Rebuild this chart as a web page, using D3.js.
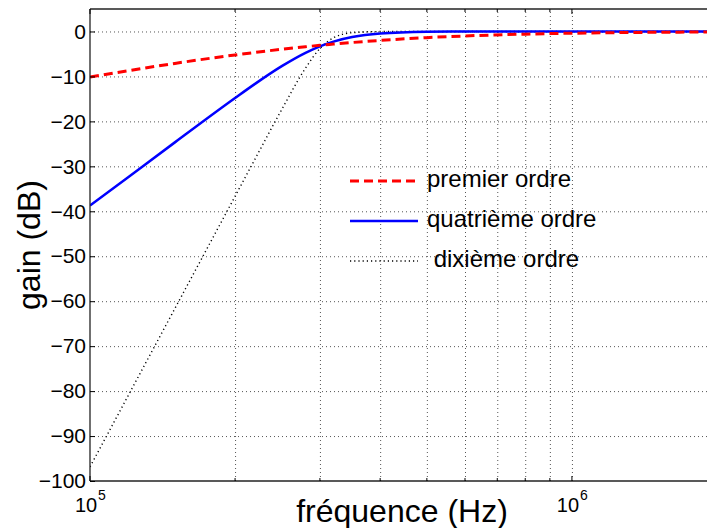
<!DOCTYPE html>
<html>
<head>
<meta charset="utf-8">
<script src="https://cdn.jsdelivr.net/npm/d3@7"></script>
<style>
  body { margin: 0; background: #fff; }
  svg { display: block; font-family: "Liberation Sans", Arial, sans-serif; }
  .grid line { stroke: #555; stroke-dasharray: 1,3; }
  .grid path { display: none; }
</style>
</head>
<body>
<div id="chart"></div>
<script>
// values (frequency in Hz, gain in dB)
var freqs = [1e5, 1.2e5, 1.5e5, 2e5, 2.2e5, 2.5e5, 2.8e5, 3e5, 3.2e5, 3.5e5, 4e5, 5e5, 6e5, 8e5, 1e6, 1.5e6, 2e6];
var premier = [-10.13, -8.73, -7.10, -5.22, -4.66, -3.96, -3.40, -3.08, -2.81, -2.45, -1.99, -1.37, -1.00, -0.59, -0.39, -0.18, -0.10];
var quatrieme = [-38.74, -32.41, -24.67, -14.81, -11.66, -7.72, -4.75, -3.31, -2.26, -1.25, -0.47, -0.08, -0.02, 0, 0, 0, 0];
var dixieme = [-96.86, -81.02, -61.64, -36.66, -28.38, -17.35, -8.15, -3.79, -1.41, -0.27, -0.02, 0, 0, 0, 0, 0, 0];

var yTicks = [0, -10, -20, -30, -40, -50, -60, -70, -80, -90, -100];
var xGrid = [2e5, 3e5, 4e5, 5e5, 6e5, 7e5, 8e5, 9e5, 1e6, 2e6];
var xMinor = [2e5, 3e5, 4e5, 5e5, 6e5, 7e5, 8e5, 9e5, 2e6];
var legendLabels = ["premier ordre", "quatrième ordre", " dixième ordre"];

var W = 707, H = 528;
var margin = { top: 9, left: 90, bottom: 47 };

var svg = d3.select("#chart").append("svg")
  .attr("width", W).attr("height", H);

var x = d3.scaleLog().domain([1e5, 2e6]).range([margin.left, 717]);
var y = d3.scaleLinear().domain([-100, 5]).range([H - margin.bottom, margin.top]);

var x0 = x.range()[0], x1 = x.range()[1];
var yTop = y.range()[1], yBot = y.range()[0];

// gridlines
svg.append("g")
  .attr("class", "grid")
  .attr("transform", "translate(" + x0 + ",0)")
  .call(d3.axisLeft(y).tickValues(yTicks.filter(function(d) { return d > -100; }))
    .tickSize(-(x1 - x0)).tickFormat(""));

svg.append("g")
  .attr("class", "grid")
  .attr("transform", "translate(0," + yBot + ")")
  .call(d3.axisBottom(x).tickValues(xGrid)
    .tickSize(-(yBot - yTop)).tickFormat(""));

// curves
svg.append("clipPath").attr("id", "clip")
  .append("rect").attr("x", x0).attr("y", yTop)
  .attr("width", x1 - x0).attr("height", yBot - yTop);

var line = d3.line()
  .x(function(d) { return x(d[0]); })
  .y(function(d) { return y(d[1]); })
  .curve(d3.curveMonotoneX);

function pairs(vals) {
  return freqs.map(function(f, i) { return [f, vals[i]]; });
}

var series = [
  { vals: premier, color: "#ff0000", width: 3, dash: "9,5" },
  { vals: quatrieme, color: "#0000ff", width: 2.5, dash: null },
  { vals: dixieme, color: "#000000", width: 1.4, dash: "1.2,3" }
];

var plot = svg.append("g").attr("clip-path", "url(#clip)");
series.slice().reverse().forEach(function(s) {
  plot.append("path")
    .datum(pairs(s.vals))
    .attr("d", line)
    .attr("fill", "none")
    .attr("stroke", s.color)
    .attr("stroke-width", s.width)
    .attr("stroke-dasharray", s.dash);
});

// frame
svg.append("line").attr("x1", x0).attr("x2", x1).attr("y1", yTop).attr("y2", yTop)
  .attr("stroke", "#222").attr("stroke-width", 1.3);
svg.append("line").attr("x1", x0).attr("x2", x1).attr("y1", yBot).attr("y2", yBot)
  .attr("stroke", "#222").attr("stroke-width", 1.3);

// left axis, ticks inside
var yAxis = svg.append("g")
  .attr("transform", "translate(" + x0 + ",0)")
  .call(d3.axisLeft(y).tickValues(yTicks).tickSizeInner(-5).tickSizeOuter(0).tickPadding(4));
yAxis.select(".domain").attr("stroke", "#222").attr("stroke-width", 1.3)
  .attr("d", "M0," + yTop + "V" + yBot);
yAxis.selectAll("text").attr("font-size", 21).attr("fill", "#000")
  .attr("font-family", "Liberation Sans, Arial, sans-serif");

// top and bottom ticks, inside
[[yTop, 1], [yBot, -1]].forEach(function(p) {
  svg.append("g").selectAll("line")
    .data(xMinor).join("line")
    .attr("x1", function(d) { return x(d); }).attr("x2", function(d) { return x(d); })
    .attr("y1", p[0]).attr("y2", p[0] + p[1] * 3)
    .attr("stroke", "#000");
  svg.append("g").selectAll("line")
    .data([1e5, 1e6]).join("line")
    .attr("x1", function(d) { return x(d); }).attr("x2", function(d) { return x(d); })
    .attr("y1", p[0]).attr("y2", p[0] + p[1] * 5)
    .attr("stroke", "#000");
});

// x tick labels (10^5, 10^6)
var xLabels = [{ v: 1e5, exp: "5" }, { v: 1e6, exp: "6" }];
xLabels.forEach(function(l) {
  svg.append("text")
    .attr("x", x(l.v) - 4).attr("y", 512)
    .attr("text-anchor", "middle")
    .attr("font-size", 20)
    .text("10");
  svg.append("text")
    .attr("x", x(l.v) + 8).attr("y", 500)
    .attr("font-size", 14)
    .text(l.exp);
});

// axis titles
svg.append("text")
  .attr("x", 402).attr("y", 522)
  .attr("text-anchor", "middle")
  .attr("font-size", 32)
  .text("fréquence (Hz)");

svg.append("text")
  .attr("transform", "translate(40,245) rotate(-90)")
  .attr("text-anchor", "middle")
  .attr("font-size", 32)
  .text("gain (dB)");

// legend
var legY = [181, 221, 261];
series.forEach(function(s, i) {
  svg.append("line")
    .attr("x1", 350).attr("x2", 418)
    .attr("y1", legY[i]).attr("y2", legY[i])
    .attr("stroke", s.color)
    .attr("stroke-width", s.width)
    .attr("stroke-dasharray", s.dash);
  svg.append("text")
    .attr("x", 427).attr("y", legY[i] + 6)
    .attr("font-size", 24)
    .attr("xml:space", "preserve")
    .style("white-space", "pre")
    .text(legendLabels[i]);
});
</script>
</body>
</html>
